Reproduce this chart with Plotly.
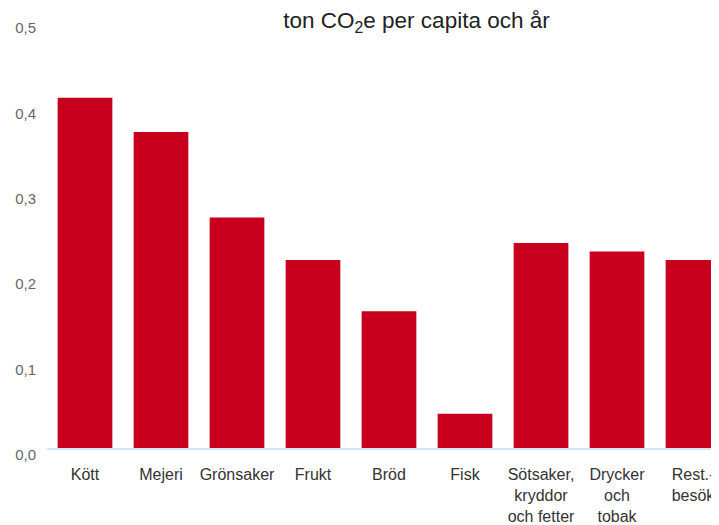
import plotly.graph_objects as go

categories = ["Kött", "Mejeri", "Grönsaker", "Frukt", "Bröd", "Fisk",
              "Sötsaker,<br>kryddor<br>och fetter", "Drycker<br>och<br>tobak", "Rest.-<br>besök"]
values = [0.41, 0.37, 0.27, 0.22, 0.16, 0.04, 0.24, 0.23, 0.22]
y_ticks = [0.0, 0.1, 0.2, 0.3, 0.4, 0.5]
y_ticklabels = ["0,0", "0,1", "0,2", "0,3", "0,4", "0,5"]
title_text = "ton CO<sub>2</sub>e per capita och år"

fig = go.Figure(go.Bar(
    x=list(range(len(categories))), y=values,
    marker=dict(color="#c8001e", line=dict(width=0)),
    width=0.72,
))

W, H = 711, 517
fig.update_layout(
    width=W, height=H,
    margin=dict(l=39, r=0, t=13, b=77),
    paper_bgcolor="white", plot_bgcolor="white",
    showlegend=False,
    font=dict(family="Liberation Sans, Arial, sans-serif", color="#333333"),
    title=dict(text=title_text, xref="container", x=408.5 / W, xanchor="center",
               yref="container", y=1 - 12 / H, yanchor="middle",
               font=dict(size=22.5, color="#222222")),
    xaxis=dict(
        tickmode="array", tickvals=list(range(len(categories))), ticktext=categories,
        range=[-0.5, 8.342], showgrid=False, zeroline=False,
        showline=True, linecolor="#cfe5f3", linewidth=2,
        ticks="", tickfont=dict(size=16, color="#333333"),
        ticklabelstandoff=11,
    ),
    yaxis=dict(
        tickmode="array", tickvals=y_ticks, ticktext=y_ticklabels,
        range=[0, 0.5], showgrid=False, zeroline=False, showline=False,
        ticks="", tickfont=dict(size=15, color="#666666"),
        ticklabelstandoff=10, ticklabelshift=7,
    ),
)

fig.write_html("out.html")
